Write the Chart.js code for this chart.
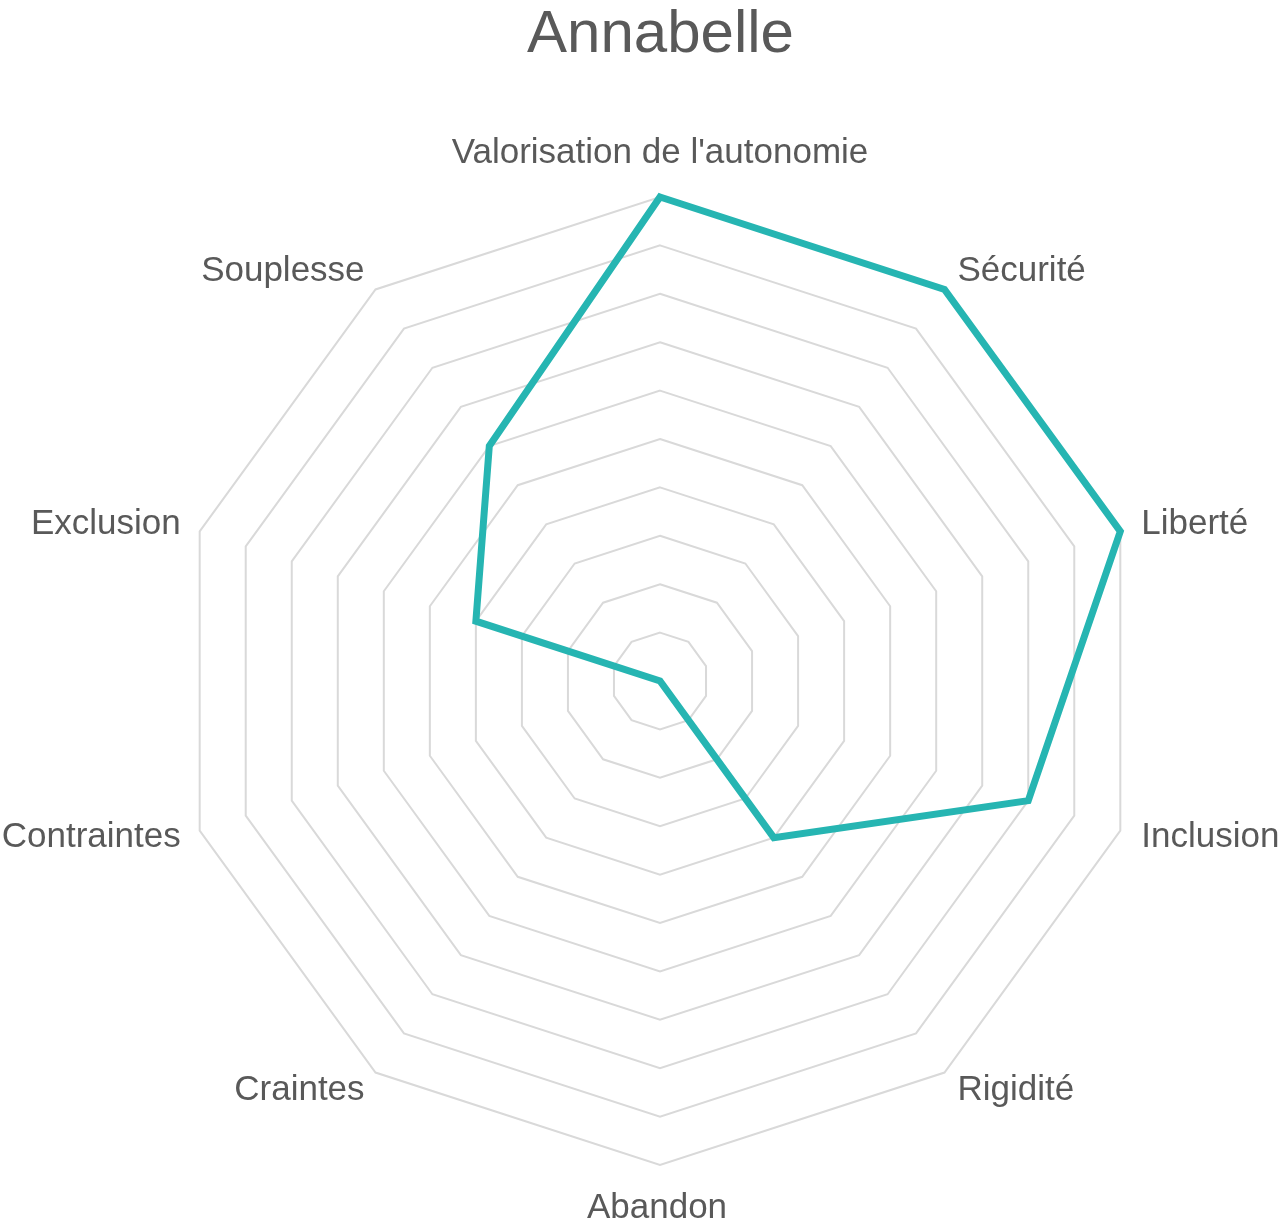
<!DOCTYPE html>
<html>
<head>
<meta charset="utf-8">
<script src="https://cdn.jsdelivr.net/npm/chart.js@4/dist/chart.umd.min.js"></script>
<style>
html,body{margin:0;padding:0;background:#fff;}
#wrap{width:1286px;height:1230px;}
</style>
</head>
<body>
<div id="wrap"><canvas id="c"></canvas></div>
<script>
const chartTitle = "Annabelle";
const categories = ["Valorisation de l'autonomie","Sécurité","Liberté","Inclusion","Rigidité","Abandon","Craintes","Contraintes","Exclusion","Souplesse"];
const values = [10,10,10,8,4,0,0,0,4,6];
const scaleMin = 0;
const scaleMax = 10;
const scaleStep = 1;

const textColor = '#595959';
const labelFont = '35px "Liberation Sans", Arial, sans-serif';

// Draws the category labels around the radar, vertically centred on each spoke end
const outerLabels = {
  id: 'outerLabels',
  afterDraw(chart) {
    const r = chart.scales.r;
    const ctx = chart.ctx;
    ctx.save();
    ctx.fillStyle = textColor;
    ctx.font = labelFont;
    chart.data.labels.forEach((lab, i) => {
      const p = r.getPointPosition(i, r.drawingArea + 22);
      const deg = Math.round((((p.angle + Math.PI / 2) * 180 / Math.PI) % 360 + 360) % 360);
      if (deg === 0) {
        const q = r.getPointPosition(i, r.drawingArea + 34);
        ctx.textAlign = 'center';
        ctx.textBaseline = 'alphabetic';
        ctx.fillText(lab, q.x, q.y);
      } else if (deg === 180) {
        const q = r.getPointPosition(i, r.drawingArea + 53);
        ctx.textAlign = 'center';
        ctx.textBaseline = 'alphabetic';
        ctx.fillText(lab, q.x - 3, q.y);
      } else {
        ctx.textAlign = deg < 180 ? 'left' : 'right';
        ctx.textBaseline = 'middle';
        ctx.fillText(lab, p.x + (deg < 180 ? 0 : 2), p.y);
      }
    });
    ctx.restore();
  }
};

new Chart(document.getElementById('c'), {
  type: 'radar',
  data: {
    labels: categories,
    datasets: [{
      label: chartTitle,
      data: values,
      borderColor: '#26b5b2',
      backgroundColor: 'rgba(0,0,0,0)',
      borderWidth: 7,
      pointRadius: 0,
      pointHoverRadius: 0,
      fill: false,
      tension: 0,
      borderJoinStyle: 'miter'
    }]
  },
  plugins: [outerLabels],
  options: {
    responsive: true,
    maintainAspectRatio: false,
    animation: false,
    layout: { padding: { top: 0, bottom: 64, left: 176, right: 141 } },
    plugins: {
      legend: { display: false },
      tooltip: { enabled: false },
      title: {
        display: true,
        text: chartTitle,
        color: textColor,
        font: { family: 'Liberation Sans', size: 60, weight: 'normal', lineHeight: 71 / 60 },
        padding: { top: 0, bottom: 126 }
      }
    },
    scales: {
      r: {
        min: scaleMin,
        max: scaleMax,
        ticks: { stepSize: scaleStep, display: false },
        grid: { color: '#d9d9d9', lineWidth: 2 },
        angleLines: { display: false },
        pointLabels: { display: false }
      }
    }
  }
});
</script>
</body>
</html>
